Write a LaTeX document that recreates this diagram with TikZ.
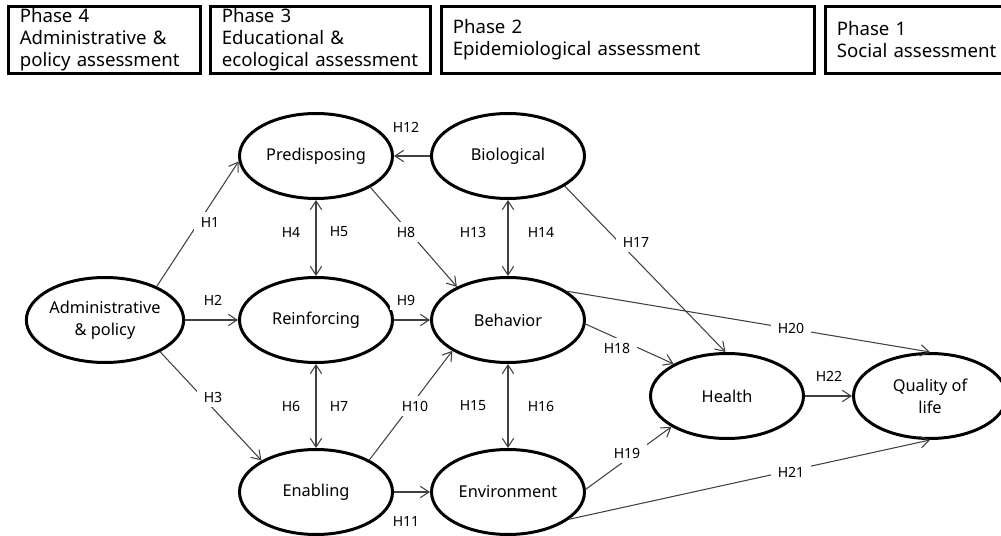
\documentclass[tikz,border=0pt]{standalone}
\usepackage{fontspec}
\setmainfont{Noto Sans}
\usetikzlibrary{positioning,arrows.meta,shapes.geometric}
\tikzset{factor/.style = {ellipse,draw,line width=1.7pt,minimum width=3.06cm,minimum height=1.7cm,inner sep=0pt,align=center,font=\fontsize{9.3}{12.4}\selectfont}}
\tikzset{phasebox/.style = {draw,line width=1.5pt,anchor=north west,align=left,inner xsep=0.23cm,inner ysep=0pt,minimum height=1.34cm,font=\fontsize{10.6}{12.6}\selectfont}}
\tikzset{hyp/.style = {draw=black!75,line width=0.6pt,-{Straight Barb[length=5pt,width=6.5pt]}}}
\tikzset{hypboth/.style = {hyp,{Straight Barb[length=5pt,width=6.5pt]}-{Straight Barb[length=5pt,width=6.5pt]}}}
\tikzset{hlabel/.style = {fill=white,inner xsep=4pt,inner ysep=3pt,font=\fontsize{8}{9}\selectfont}}

\begin{document}
\begin{tikzpicture}[x=0.02cm,y=-0.02cm]
    \useasboundingbox (0,0) rectangle (1001,536);

    % phases
    \node [phasebox,text width=3.38cm] (ph4) at (7,5)   {Phase 4\\Administrative \&\\policy assessment};
    \node [phasebox,text width=3.94cm] (ph3) at (209,5) {Phase 3\\Educational \&\\ecological assessment};
    \node [phasebox,text width=7.0cm]  (ph2) at (440,5) {Phase 2\\Epidemiological assessment};
    \node [phasebox,text width=4.0cm]  (ph1) at (824,5) {Phase 1\\Social assessment};

    % factors
    \node [factor] (admin)  at (105,320) {Administrative\\\& policy};
    \node [factor] (pred)   at (316,156) {Predisposing};
    \node [factor] (reinf)  at (316,320) {Reinforcing};
    \node [factor] (enab)   at (316,492) {Enabling};
    \node [factor] (bio)    at (508,156) {Biological};
    \node [factor] (beh)    at (508,320) {Behavior};
    \node [factor] (env)    at (508,492) {Environment};
    \node [factor] (health) at (727,396) {Health};
    \node [factor] (qual)   at (930,396) {Quality of\\life};

    % paths
    \draw [hyp] (admin.33) -- (pred.184);
    \draw [hyp] (admin) -- (reinf);
    \draw [hyp] (admin.-30) -- (enab.150);
    \draw [hypboth] (pred) -- (reinf);
    \draw [hypboth] (reinf) -- (enab);
    \draw [hyp] (pred.-30) -- (beh.147);
    \draw [hyp] (reinf) -- (beh);
    \draw [hyp] (enab.31) -- (beh.209);
    \draw [hyp] (enab) -- (env);
    \draw [hyp] (bio) -- (pred);
    \draw [hypboth] (bio) -- (beh);
    \draw [hypboth] (beh) -- (env);
    \draw [hyp] (bio.-28) -- (health.92);
    \draw [hyp] (beh.-3) -- (health.149);
    \draw [hyp] (env.2) -- (health.209);
    \draw [hyp] (beh.26) -- (qual.north);
    \draw [hyp] (env.-24) -- (qual.south);
    \draw [hyp] (health) -- (qual);

    % hypotheses
    \node [hlabel] (h1)  at (210,222) {H1};
    \node [hlabel] (h2)  at (213,300) {H2};
    \node [hlabel] (h3)  at (213,397) {H3};
    \node [hlabel] (h4)  at (291,232) {H4};
    \node [hlabel] (h5)  at (339,232) {H5};
    \node [hlabel] (h6)  at (291,406) {H6};
    \node [hlabel] (h7)  at (339,406) {H7};
    \node [hlabel] (h8)  at (406,232) {H8};
    \node [hlabel] (h9)  at (406,300) {H9};
    \node [hlabel] (h10) at (415,406) {H10};
    \node [hlabel] (h11) at (406,521) {H11};
    \node [hlabel] (h12) at (406,127) {H12};
    \node [hlabel] (h13) at (473,232) {H13};
    \node [hlabel] (h14) at (541,232) {H14};
    \node [hlabel] (h15) at (473,406) {H15};
    \node [hlabel] (h16) at (541,406) {H16};
    \node [hlabel] (h17) at (636,242) {H17};
    \node [hlabel] (h18) at (617,348) {H18};
    \node [hlabel] (h19) at (627,453) {H19};
    \node [hlabel] (h20) at (791,328) {H20};
    \node [hlabel] (h21) at (791,472) {H21};
    \node [hlabel] (h22) at (829,376) {H22};
\end{tikzpicture}
\end{document}
